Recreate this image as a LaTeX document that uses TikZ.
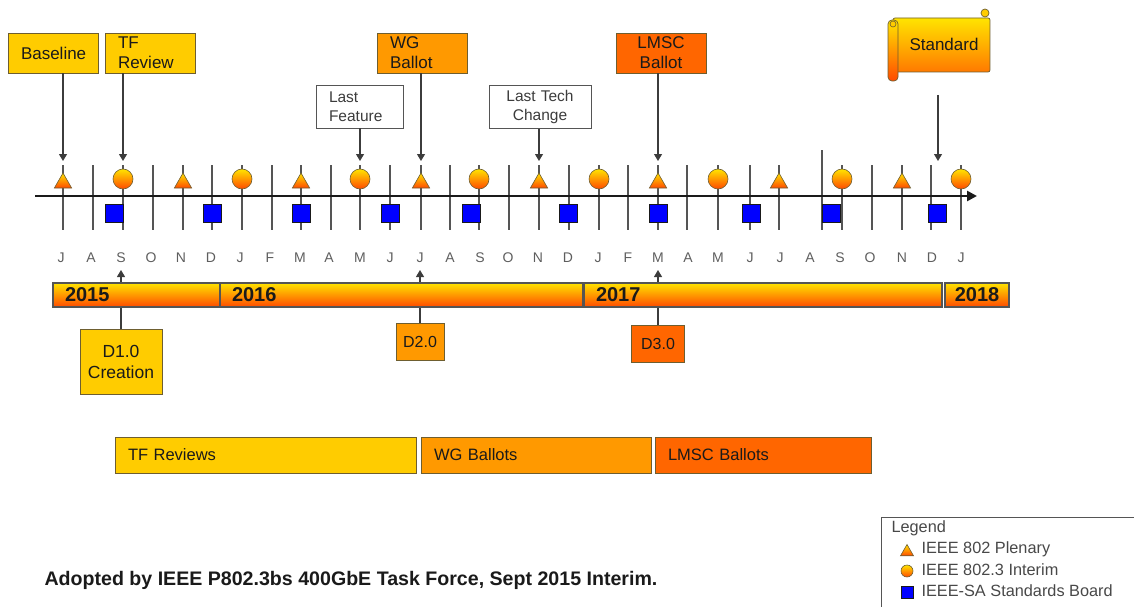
\documentclass[tikz,border=0pt]{standalone}
\usepackage{fontspec}
\setmainfont{Liberation Sans}
\usetikzlibrary{arrows.meta,calc,positioning,shapes.geometric}
\definecolor{SchedGold}{HTML}{FFCC00}
\definecolor{SchedOrange}{HTML}{FF9900}
\definecolor{SchedRust}{HTML}{FF6600}
\definecolor{SchedYellow}{HTML}{FFE400}
\definecolor{SchedRed}{HTML}{FF4A00}
\definecolor{SchedBlue}{HTML}{0000FF}
\definecolor{SchedInk}{HTML}{1A1A1A}
\definecolor{SchedRule}{HTML}{555555}
\definecolor{SchedMuted}{HTML}{5E5E5E}
\definecolor{SchedEdge}{HTML}{6E5E30}
\tikzset{
  sched/box/.style={
    draw=SchedEdge, line width=.8pt, inner xsep=13pt, inner ysep=2pt,
    text=SchedInk, font=\fontsize{17}{20}\selectfont
  },
  sched/gold/.style={sched/box, fill=SchedGold},
  sched/orange/.style={sched/box, fill=SchedOrange},
  sched/rust/.style={sched/box, fill=SchedRust},
  sched/top/.style={minimum width=90pt, minimum height=40pt, text width=64pt},
  sched/note/.style={
    draw=SchedRule, fill=white, line width=.8pt, inner xsep=13pt,
    minimum height=43pt, text=SchedInk!85, font=\fontsize{15.5}{19}\selectfont
  },
  sched/glow/.style={
    top color=SchedYellow, middle color=SchedOrange!85!SchedYellow,
    bottom color=SchedRed
  },
  sched/plenary/.style={
    regular polygon, regular polygon sides=3, minimum size=20pt,
    inner sep=0pt, draw=SchedEdge, line width=.6pt, sched/glow
  },
  sched/interim/.style={
    circle, minimum size=20pt, inner sep=0pt, draw=SchedEdge,
    line width=.6pt, sched/glow
  },
  sched/board/.style={
    rectangle, minimum size=18pt, inner sep=0pt, draw=SchedInk,
    line width=.6pt, fill=SchedBlue
  },
  sched/year/.style={
    draw=SchedRule, line width=1.2pt, sched/glow, minimum height=24pt,
    inner ysep=0pt, inner xsep=12pt, align=left, text=SchedInk,
    font=\fontsize{20}{20}\selectfont\bfseries
  },
  sched/arrow/.style={
    -{Triangle[width=8pt,length=7pt]}, line width=1.1pt, draw=SchedInk!85
  },
  sched/tick/.style={draw=SchedRule, line width=1.3pt},
  sched/axis/.style={-{Triangle[width=10pt,length=10pt]}, line width=2.6pt, draw=SchedInk},
  sched/month/.style={font=\fontsize{14}{14}\selectfont, text=SchedMuted},
  sched/phase/.style={
    sched/box, minimum height=36pt, align=left,
    font=\fontsize{16.5}{19}\selectfont
  },
  sched/key/.style={font=\fontsize{16.3}{18}\selectfont, text=SchedInk!80, anchor=west}
}

\begin{document}
\begin{tikzpicture}[x=1pt,y=-1pt]
  \useasboundingbox (0,0) rectangle (1134,607);
  % month grid and time axis
  \foreach \x in {63,93,123,153,183,212,242,272,301,331,360,390,421,450,479,
      509,539,569,599,628,658,687,718,750,779,842,872,902,931,961}
    \draw[sched/tick] (\x,165) -- (\x,230);
  \draw[sched/tick] (822,150) -- (822,230);
  \coordinate (axisstart) at (35,196);
  \coordinate (axisend) at (977,196);
  \draw[sched/axis] (axisstart) -- (axisend);
  \foreach \x/\m in {61/J,91/A,121/S,151/O,181/N,211/D,240/J,270/F,300/M,329/A,
      360/M,390/J,420/J,450/A,480/S,508/O,538/N,568/D,598/J,628/F,658/M,
      688/A,718/M,750/J,780/J,810/A,840/S,870/O,902/N,932/D,961/J}
    \node[sched/month] (mon\x) at (\x,258) {\m};
  % meetings
  \foreach \i/\x in {0/63,4/183,8/301,12/421,16/539,20/658,24/779,28/902}
    \node[sched/plenary] (m\i) at (\x,183) {};
  \foreach \i/\x in {2/123,6/242,10/360,14/479,18/599,22/718,26/842,30/961}
    \node[sched/interim] (m\i) at (\x,179) {};
  \foreach \x [count=\k] in {114,212,301,390,471,568,658,751,831,937}
    \node[sched/board] (b\k) at (\x,213) {};
  % milestones above the axis
  \node[sched/gold,sched/top,align=center] (baseline) at (53,53) {Baseline};
  \node[sched/gold,sched/top,align=left] (tfreview) at (150,53) {TF\\Review};
  \node[sched/orange,sched/top,align=left] (wgballot) at (422,53) {WG\\Ballot};
  \node[sched/rust,sched/top,align=center] (lmscballot) at (661,53) {LMSC\\Ballot};
  \node[sched/note,minimum width=87pt,text width=61pt,align=left] (lastfeature)
    at (359.5,106.5) {Last\\Feature};
  \node[sched/note,minimum width=102pt,text width=76pt,align=center] (lasttech)
    at (540,107) {Last Tech\\Change};
  \coordinate (tipline) at (0,161);
  \foreach \src/\dst in {baseline/m0,tfreview/m2,lastfeature/m10,wgballot/m12,
      lasttech/m16,lmscballot/m20}
    \draw[sched/arrow] (\src.south -| \dst) -- (tipline -| \dst);
  % standard scroll
  \draw[draw=SchedEdge, line width=.7pt, rounded corners=2pt,
    top color=SchedYellow, bottom color=SchedOrange!60!SchedRed]
    (893,18) rectangle (990,72);
  \draw[draw=SchedEdge, line width=.7pt, fill=SchedGold] (985,13) circle (4);
  \draw[draw=SchedEdge, line width=.7pt, rounded corners=4pt,
    top color=SchedYellow, bottom color=SchedRed] (888,20) rectangle (898,81);
  \draw[draw=SchedEdge, line width=.6pt, fill=SchedGold] (893,24) circle (3);
  \node[font=\fontsize{17}{17}\selectfont, text=SchedInk] (standard) at (944,44) {Standard};
  \coordinate (stdtail) at (938,95);
  \draw[sched/arrow] (stdtail) -- (stdtail |- tipline);
  % drafts below the year bar
  \node[sched/gold,minimum width=82pt,minimum height=65pt,text width=72pt,
    inner xsep=5pt,align=center,font=\fontsize{17.5}{21}\selectfont]
    (dcreate) at (121,361.5) {D1.0\\Creation};
  \node[sched/orange,minimum width=48pt,minimum height=37pt,inner xsep=4pt,
    font=\fontsize{16}{19}\selectfont] (dtwo) at (420,342) {D2.0};
  \node[sched/rust,minimum width=53pt,minimum height=37pt,inner xsep=4pt,
    font=\fontsize{16}{19}\selectfont] (dthree) at (658,344) {D3.0};
  \coordinate (upline) at (0,270);
  \foreach \d in {dcreate,dtwo,dthree}
    \draw[sched/arrow] (\d.north) -- (\d.north |- upline);
  % year bar
  \node[sched/year,minimum width=167pt,text width=143pt] (y2015) at (136.5,295) {2015};
  \node[sched/year,minimum width=363pt,text width=339pt] (y2016) at (401.5,295) {2016};
  \node[sched/year,minimum width=358pt,text width=334pt] (y2017) at (763,295) {2017};
  \node[sched/year,minimum width=64pt,text width=64pt,inner xsep=0pt,align=center]
    (y2018) at (977,295) {2018};
  % review and ballot phases
  \node[sched/phase,fill=SchedGold,minimum width=301pt,text width=275pt]
    (tfphase) at (265.5,455) {TF Reviews};
  \node[sched/phase,fill=SchedOrange,minimum width=230pt,text width=204pt]
    (wgphase) at (536,455) {WG Ballots};
  \node[sched/phase,fill=SchedRust,minimum width=216pt,text width=190pt,inner xsep=11pt]
    (lmscphase) at (763,455) {LMSC Ballots};
  % legend
  \draw[draw=SchedRule, line width=1pt] (881,517) rectangle (1140,612);
  \node[sched/key] (legend) at (888,528) {Legend};
  \node[sched/plenary,minimum size=15pt] (keytri) at (907,552) {};
  \node[sched/interim,minimum size=12pt] (keycirc) at (907,571) {};
  \node[sched/board,minimum size=12pt] (keysq) at (907,592) {};
  \node[sched/key] at (918,549) {IEEE 802 Plenary};
  \node[sched/key] at (918,570) {IEEE 802.3 Interim};
  \node[sched/key] at (918,591) {IEEE-SA Standards Board};
  % footnote
  \node[anchor=west,font=\fontsize{19.6}{20}\selectfont\bfseries,text=SchedInk]
    (adopted) at (41,580) {Adopted by IEEE P802.3bs 400GbE Task Force, Sept 2015 Interim.};
\end{tikzpicture}
\end{document}
